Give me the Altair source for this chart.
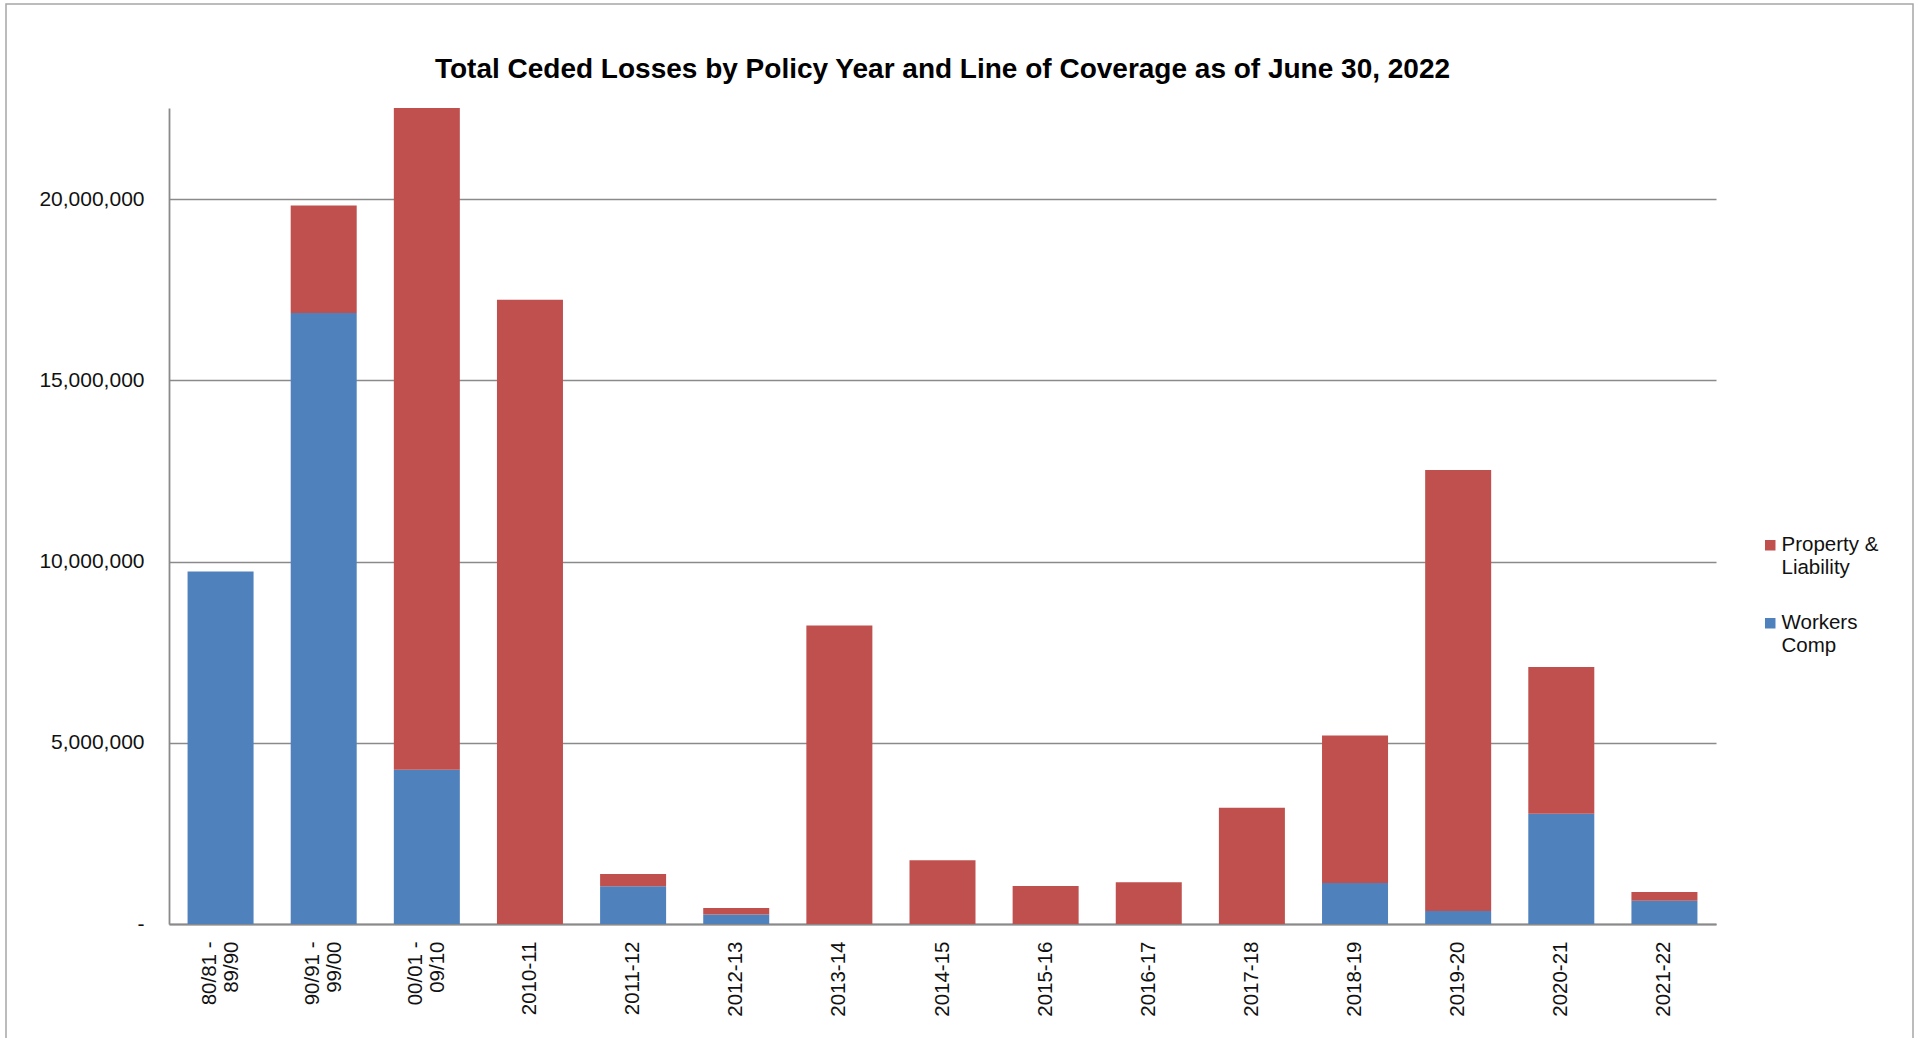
import altair as alt
import pandas as pd

# ---- data ----
categories = ["80/81 -|89/90", "90/91 -|99/00", "00/01 -|09/10", "2010-11", "2011-12",
              "2012-13", "2013-14", "2014-15", "2015-16", "2016-17", "2017-18",
              "2018-19", "2019-20", "2020-21", "2021-22"]
workers_comp = [9730000, 16860000, 4260000, 0, 1040000, 260000, 0, 0, 0, 0, 0,
                1130000, 360000, 3040000, 640000]
property_liability = [0, 2970000, 18260000, 17230000, 340000, 180000, 8240000, 1760000,
                      1050000, 1150000, 3210000, 4070000, 12170000, 4050000, 240000]
series_names = ["Property & Liability", "Workers Comp"]
series_colors = ["#C0504D", "#4F81BD"]
y_ticks = [0, 5000000, 10000000, 15000000, 20000000]
y_max = 22520000
title_text = "Total Ceded Losses by Policy Year and Line of Coverage as of June 30, 2022"

rows = []
for c, wc, pl in zip(categories, workers_comp, property_liability):
    rows.append({"year": c, "line": "Workers Comp", "value": wc, "ord": 0})
    rows.append({"year": c, "line": "Property & Liability", "value": pl, "ord": 1})
df = pd.DataFrame(rows)

FONT = "Liberation Sans"

bars = alt.Chart(df).mark_bar().encode(
    x=alt.X("year:N", sort=categories, title=None,
            scale=alt.Scale(paddingInner=0.36, paddingOuter=0.18),
            axis=alt.Axis(labelAngle=-90, labelExpr="split(datum.label, '|')",
                          labelFont=FONT, labelFontSize=20.5, labelColor="#111111",
                          labelLineHeight=22.5, labelPadding=17, ticks=False,
                          labelOffset={"condition": {"test": "indexof(datum.value, '|') >= 0",
                                                     "value": -11}, "value": 0},
                          domainColor="#8a8a8a", domainWidth=1.8, grid=False,
                          labelBaseline="middle", labelAlign="right")),
    y=alt.Y("value:Q", stack="zero", title=None,
            scale=alt.Scale(domain=[0, y_max], nice=False, zero=True),
            axis=alt.Axis(values=y_ticks,
                          labelExpr="datum.value == 0 ? '-' : format(datum.value, ',')",
                          labelFont=FONT, labelFontSize=21, labelColor="#111111",
                          labelPadding=25, ticks=False, domainColor="#8a8a8a",
                          domainWidth=1.8, grid=True, gridColor="#8a8a8a",
                          gridWidth=1.4)),
    color=alt.Color("line:N",
                    scale=alt.Scale(domain=series_names, range=series_colors),
                    legend=alt.Legend(title=None, orient="none", legendX=1591, legendY=427,
                                      labelExpr="datum.label == 'Property & Liability' ? ['Property &', 'Liability'] : ['Workers', 'Comp']",
                                      labelFont=FONT, labelFontSize=20.5, labelColor="#111111",
                                      labelBaseline="middle",
                                      symbolType="square",
                                      symbolSize=110, symbolStrokeWidth=0,
                                      rowPadding=34, labelOffset=1, padding=0)),
    order=alt.Order("ord:Q"),
)

border = alt.Chart(pd.DataFrame({"a": [0]})).mark_rect(
    filled=False, stroke="#a6a6a6", strokeWidth=1.5
).encode(
    x=alt.value(-163), x2=alt.value(1744), y=alt.value(-104), y2=alt.value(960)
)

chart = alt.layer(border, bars).properties(
    width=1547, height=816,
    title=alt.TitleParams(title_text, font=FONT, fontSize=28, fontWeight="bold",
                          color="#000000", anchor="middle", baseline="alphabetic",
                          offset=0, dy=103),
    autosize=alt.AutoSizeParams(type="none"),
    padding={"left": 169, "top": 108, "right": 203, "bottom": 114},
    background="white",
).configure_view(stroke=None, strokeWidth=0)

chart.save("out.html", embed_options={"renderer": "svg", "actions": False})
